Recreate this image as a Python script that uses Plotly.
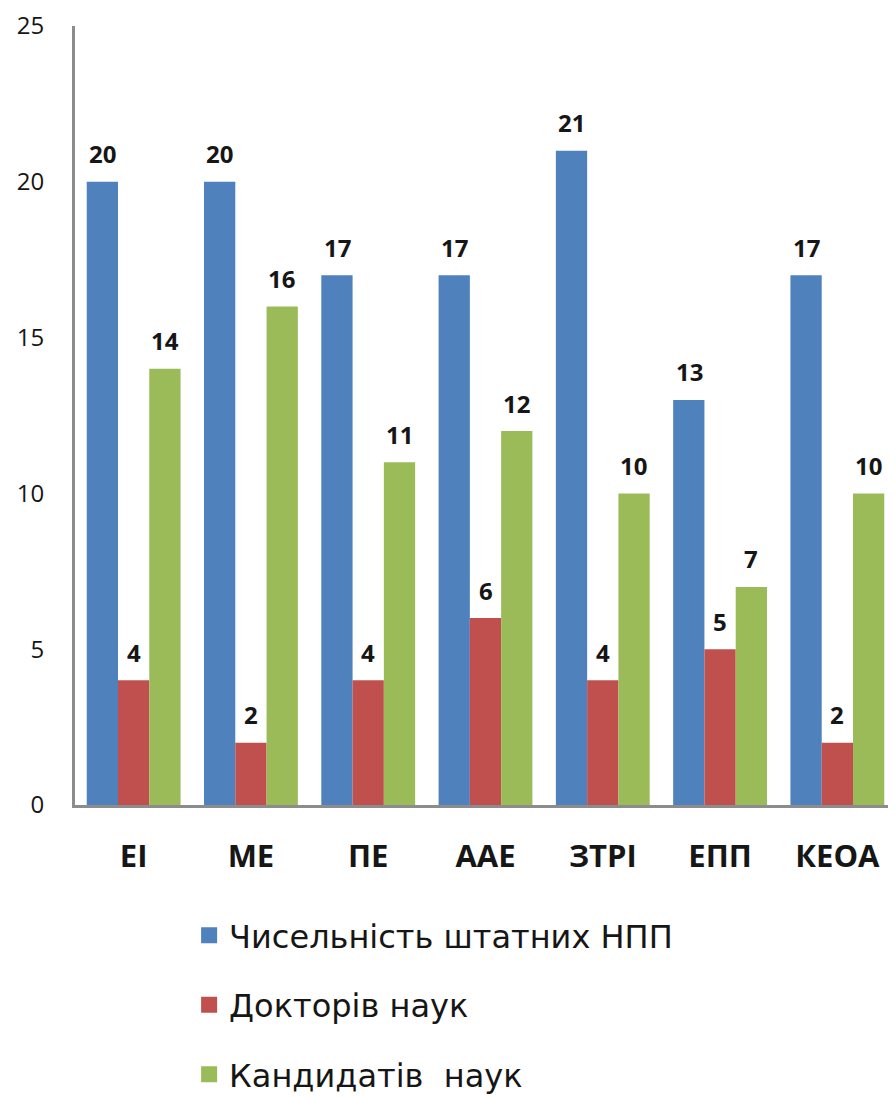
import plotly.graph_objects as go

categories = ["ЕІ", "МЕ", "ПЕ", "ААЕ", "ЗТРІ", "ЕПП", "КЕОА"]
series_names = ["Чисельність штатних НПП", "Докторів наук", "Кандидатів  наук"]
staff = [20, 20, 17, 17, 21, 13, 17]
doctors = [4, 2, 4, 6, 4, 5, 2]
candidates = [14, 16, 11, 12, 10, 7, 10]
colors = ["#4F81BD", "#C0504D", "#9BBB59"]
y_ticks = [0, 5, 10, 15, 20, 25]

FONT = "'Open Sans', 'Noto Sans', sans-serif"
LEGFONT = "'DejaVu Sans', 'Open Sans', sans-serif"
TXT = "#161616"

fig = go.Figure()
all_series = [staff, doctors, candidates]
offsets = [-31, 0, 31]
for name, vals, col in zip(series_names, all_series, colors):
    fig.add_trace(go.Bar(x=categories, y=vals, name=name, marker_color=col,
                         marker_line_width=0, showlegend=False))
# legend entries with larger square symbols
for name, col in zip(series_names, colors):
    fig.add_trace(go.Scatter(x=[None], y=[None], mode="markers", name=name,
                             legendgroup=name,
                             marker=dict(symbol="square", size=16, color=col)))

for vals, off in zip(all_series, offsets):
    for c, v in zip(categories, vals):
        fig.add_annotation(x=c, y=v, text=f"<b>{v}</b>", showarrow=False,
                           xshift=off, yshift=28, yanchor="middle",
                           font=dict(family=FONT, size=24, color=TXT))

fig.update_layout(
    width=888, height=1091,
    margin=dict(l=67, r=0, t=18, b=294, autoexpand=False),
    paper_bgcolor="white", plot_bgcolor="white",
    barmode="group", bargap=0.2, bargroupgap=0,
    font=dict(family=FONT, color=TXT),
    xaxis=dict(showline=True, linecolor="#8c8c8c", linewidth=3,
               ticks="", showgrid=False, zeroline=False,
               tickfont=dict(family=FONT, size=31, color=TXT),
               ticklabelstandoff=22),
    yaxis=dict(range=[0, 25], tickvals=y_ticks, showline=True,
               linecolor="#8c8c8c", linewidth=3, ticks="", showgrid=False,
               zeroline=False, tickfont=dict(family=FONT, size=24, color=TXT),
               ticklabelstandoff=23),
    legend=dict(x=0.139, y=-0.132, xanchor="left", yanchor="top",
                orientation="v", traceorder="grouped", tracegroupgap=25,
                font=dict(family=LEGFONT, size=32, color=TXT),
                bgcolor="rgba(0,0,0,0)"),
)
fig.update_xaxes(tickprefix="<b>", ticksuffix="</b>")

fig.write_html("out.html")
